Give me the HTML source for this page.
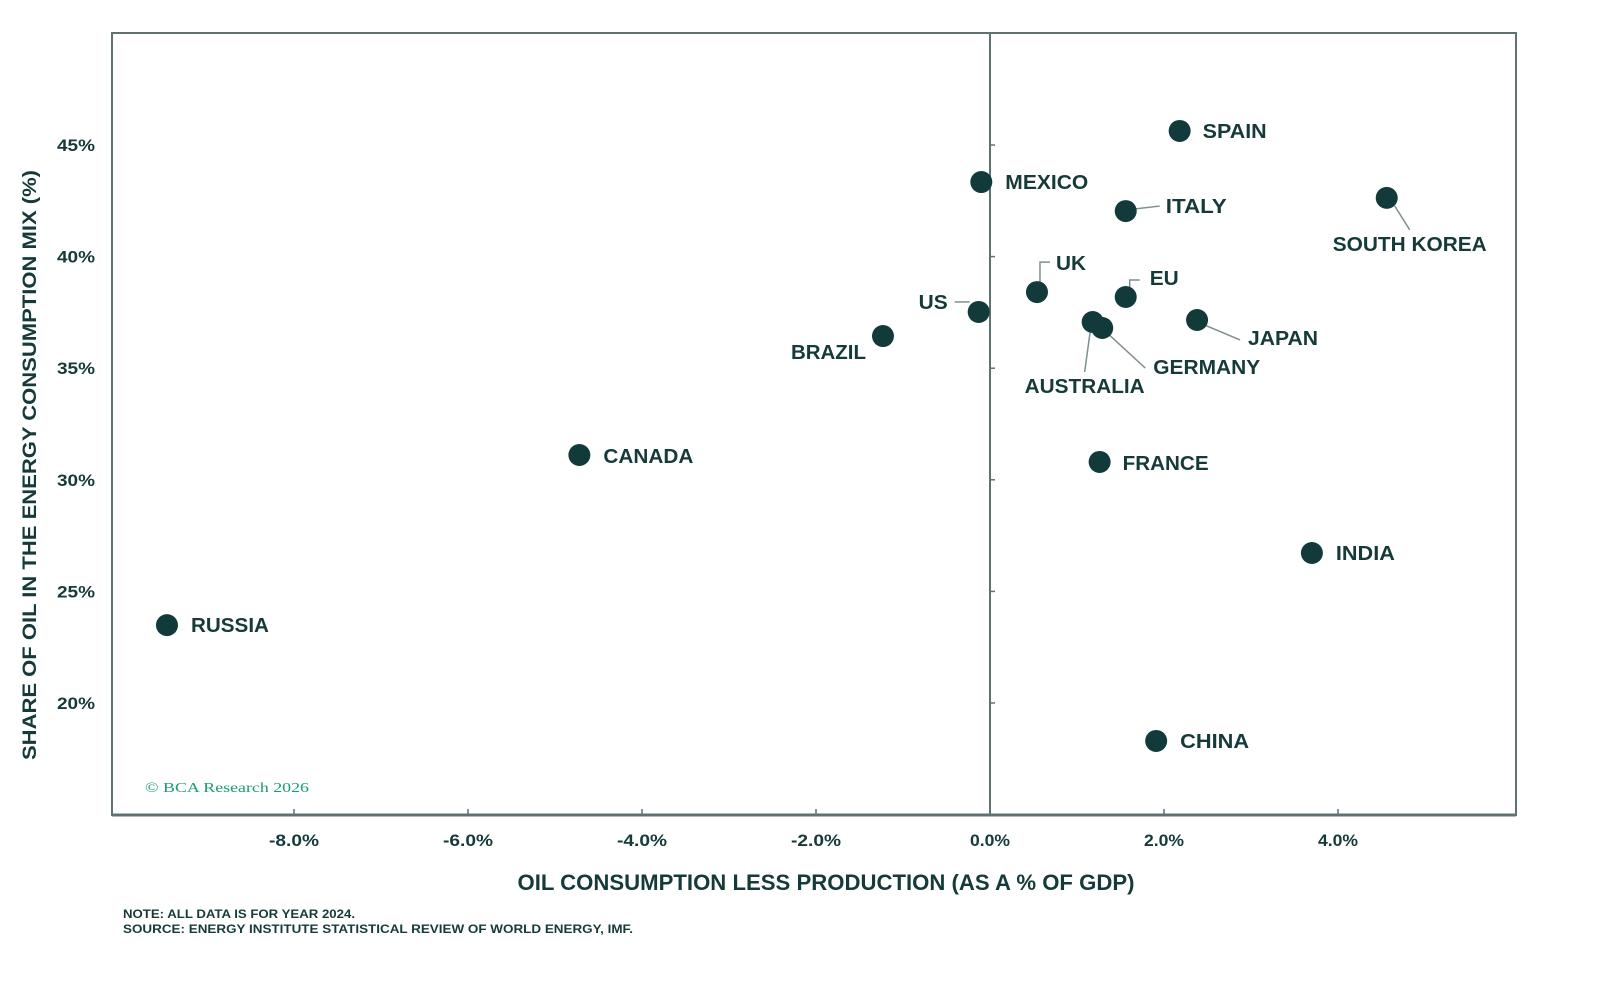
<!DOCTYPE html>
<html><head><meta charset="utf-8"><style>
html,body{margin:0;padding:0;background:#fff;}
svg{display:block;font-family:"Liberation Sans",sans-serif;}
</style></head><body>
<svg id="chart" width="1600" height="985" viewBox="0 0 1600 985">
<rect x="112" y="33" width="1404" height="782" fill="#fff" stroke="#5f7170" stroke-width="2"/>
<line x1="112" y1="815" x2="1516" y2="815" stroke="#5f7170" stroke-width="3"/>
<g id="axes"></g>
<g id="leaders" stroke="#7f8f8e" stroke-width="1.5" fill="none"></g>
<g id="points"></g>
<text x="36" y="465" transform="rotate(-90 36 465)" text-anchor="middle" font-size="19" font-weight="bold" fill="#163a3a" textLength="590" lengthAdjust="spacingAndGlyphs">SHARE OF OIL IN THE ENERGY CONSUMPTION MIX (%)</text>
<text x="826" y="890" text-anchor="middle" font-size="22" font-weight="bold" fill="#163a3a" textLength="617" lengthAdjust="spacingAndGlyphs">OIL CONSUMPTION LESS PRODUCTION (AS A % OF GDP)</text>
<text x="123" y="918" font-size="12" font-weight="bold" fill="#163a3a" textLength="232" lengthAdjust="spacingAndGlyphs">NOTE: ALL DATA IS FOR YEAR 2024.</text>
<text x="123" y="933" font-size="12" font-weight="bold" fill="#163a3a" textLength="510" lengthAdjust="spacingAndGlyphs">SOURCE: ENERGY INSTITUTE STATISTICAL REVIEW OF WORLD ENERGY, IMF.</text>
<text x="145" y="792" font-family="'Liberation Serif',serif" font-size="14" fill="#1a9e6e" textLength="164" lengthAdjust="spacingAndGlyphs">© BCA Research 2026</text>
</svg>
<script>
const countries = ["SPAIN","MEXICO","ITALY","SOUTH KOREA","UK","EU","US","BRAZIL","JAPAN","AUSTRALIA","GERMANY","CANADA","FRANCE","INDIA","RUSSIA","CHINA"];
const xValues = [2.18,-0.10,1.56,4.56,0.54,1.56,-0.13,-1.23,2.38,1.18,1.29,-4.72,1.26,3.70,-9.46,1.91];
const yValues = [45.63,43.34,42.04,42.63,38.41,38.19,37.52,36.44,37.16,37.07,36.80,31.11,30.80,26.72,23.49,18.30];
const xTicks = [-8,-6,-4,-2,0,2,4];
const xTickLabels = ["-8.0%","-6.0%","-4.0%","-2.0%","0.0%","2.0%","4.0%"];
const yTicks = [45,40,35,30,25,20];
const yTickLabels = ["45%","40%","35%","30%","25%","20%"];

const X = v => 990 + v*87;
const Y = v => 145 + (45 - v)*22.32;
const NS = "http://www.w3.org/2000/svg";
function mk(tag, attrs, parent){const e=document.createElementNS(NS,tag);for(const k in attrs)e.setAttribute(k,attrs[k]);parent.appendChild(e);return e;}

const axes=document.getElementById('axes');
const zl=mk('line',{x1:X(0),y1:33,x2:X(0),y2:815,stroke:'#5f7170','stroke-width':2},axes);


xTicks.forEach((t,i)=>{
  const tk=mk('line',{x1:X(t),y1:809,x2:X(t),y2:815,stroke:'#5f7170','stroke-width':1.5},axes);
  
  
  const tx=mk('text',{x:X(t),y:846,'text-anchor':'middle','font-size':17,'font-weight':'bold',fill:'#163a3a',textLength:xTickLabels[i].length*10,lengthAdjust:'spacingAndGlyphs'},axes);
  tx.textContent=xTickLabels[i];
  
  
});
yTicks.forEach((t,i)=>{
  const tk=mk('line',{x1:X(0),y1:Y(t),x2:X(0)+5,y2:Y(t),stroke:'#5f7170','stroke-width':1.5},axes);
  
  
  const tx=mk('text',{x:95,y:Y(t)+6,'text-anchor':'end','font-size':17,'font-weight':'bold',fill:'#163a3a',textLength:38,lengthAdjust:'spacingAndGlyphs'},axes);
  tx.textContent=yTickLabels[i];
  
  
});

// label layout: [dx, dy, leader polyline (relative), text width]
const labelLayout = {
 "SPAIN":[23,7,null,64],"MEXICO":[24,7,null,83],"ITALY":[40,2,[[8,-2],[34,-5]],61],
 "SOUTH KOREA":[-54,53,[[8,8],[23,32]],154],"UK":[19,-22,[[3,-6],[3,-30],[13,-30]],30],
 "EU":[24,-12,[[4,-5],[4,-17],[14,-17]],29],"US":[-60,-3,[[-24,-10],[-9,-10]],29],
 "BRAZIL":[-92,23,null,75],"JAPAN":[51,25,[[5,4],[43,20]],70],
 "AUSTRALIA":[-68,71,[[-2,6],[-8,50]],120],"GERMANY":[51,46,[[5,5],[43,40]],107],
 "CANADA":[24,8,null,90],"FRANCE":[23,8,null,86],"INDIA":[24,7,null,59],"RUSSIA":[24,7,null,78],"CHINA":[24,7,null,69]
};
const lead=document.getElementById('leaders'), pts=document.getElementById('points');
countries.forEach((c,i)=>{
  const px=X(xValues[i]), py=Y(yValues[i]);
  const L=labelLayout[c];
  if(L[2]){
    const p=mk('polyline',{points:L[2].map(q=>(px+q[0])+','+(py+q[1])).join(' ')},lead);
    
    
  }
  const dot=mk('circle',{cx:px,cy:py,r:11,fill:'#133a3b'},pts);
  
  
  const t=mk('text',{x:px+L[0],y:py+L[1],'font-size':20,'font-weight':'bold',fill:'#163a3a',textLength:L[3],lengthAdjust:'spacingAndGlyphs'},pts);
  t.textContent=c;
  
  
});
</script>
</body></html>
